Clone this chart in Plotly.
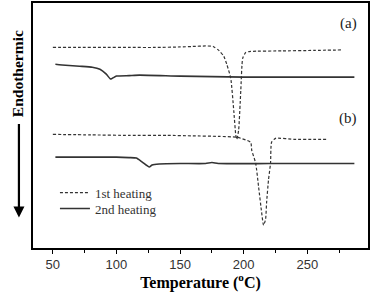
import plotly.graph_objects as go

# Sample (a)
t_a1 = [50, 70, 90, 110, 130, 150, 160, 170, 176, 180.5, 184.4, 186.7, 189.8, 192.2, 193.8, 194.6, 196, 197.7, 199.2, 201.6, 205.5, 230, 255, 278]
h_a1 = [203, 203, 203, 203, 203, 203.5, 204, 204.5, 204, 200, 194, 186, 172, 139, 114, 110, 119, 159, 192, 198, 199, 199.5, 200, 200.5]
t_a2 = [52, 60, 71, 81, 87, 92, 95.3, 97, 100, 110, 118, 150, 200, 250, 287]
h_a2 = [186, 185, 184, 183, 181, 176, 171, 172, 174, 174.5, 175, 174, 173, 173, 173]
# Sample (b)
t_b1 = [50, 80, 110, 140, 160, 180, 195, 205.5, 206.3, 209.4, 211.7, 214.1, 215.6, 217.2, 218, 219.5, 221.1, 221.9, 225, 240, 255, 265]
h_b1 = [115, 114.5, 114, 114, 113.5, 113, 112, 107, 99, 86, 62, 36, 23, 29, 46, 69, 86, 107, 111, 110, 110, 110]
t_b2 = [52, 80, 100, 110, 115.6, 120.3, 125.8, 128, 133.6, 150, 170, 175, 180, 220, 260, 287]
h_b2 = [92, 92, 92, 91.5, 91, 87, 82, 84, 85, 85.5, 85.5, 86.5, 85.5, 85.5, 85.5, 85.5]

x_ticks = [50, 100, 150, 200, 250]

dash_style = dict(color="#333333", width=1.2, dash="3px,2px")
solid_style = dict(color="#333333", width=1.6)

fig = go.Figure()
fig.add_trace(go.Scatter(x=t_a1, y=h_a1, mode="lines", line=dash_style, name="1st heating",
                         line_shape="spline", line_smoothing=0.5, legend="legend"))
fig.add_trace(go.Scatter(x=t_a2, y=h_a2, mode="lines", line=solid_style, name="2nd heating",
                         line_shape="spline", line_smoothing=0.5, legend="legend2"))
fig.add_trace(go.Scatter(x=t_b1, y=h_b1, mode="lines", line=dash_style, showlegend=False,
                         line_shape="spline", line_smoothing=0.5))
fig.add_trace(go.Scatter(x=t_b2, y=h_b2, mode="lines", line=solid_style, showlegend=False,
                         line_shape="spline", line_smoothing=0.5))

legend_common = dict(x=0.0655, xanchor="left", yanchor="middle", bgcolor="rgba(0,0,0,0)",
                     font=dict(family="Liberation Serif", size=13, color="#333"), itemwidth=30)

fig.update_layout(
    width=371, height=292,
    margin=dict(l=33, r=2, t=1, b=43),
    plot_bgcolor="white", paper_bgcolor="white",
    showlegend=True,
    legend=dict(y=0.226, **legend_common),
    legend2=dict(y=0.161, **legend_common),
    xaxis=dict(range=[34.4, 297.7], tickvals=x_ticks, ticks="outside", ticklen=4, tickwidth=1.2,
               tickcolor="black", showline=True, linecolor="black", linewidth=1.5, mirror=True,
               showgrid=False, zeroline=False,
               minor=dict(dtick=25, tick0=25, ticks="outside", ticklen=3, tickcolor="black", showgrid=False),
               tickfont=dict(family="Liberation Sans", size=13, color="#333"),
               title=dict(text="<b>Temperature (<sup>o</sup>C)</b>", font=dict(family="Liberation Serif", size=16, color="black"), standoff=7)),
    yaxis=dict(range=[0, 248], showticklabels=False, ticks="", showline=True, linecolor="black",
               linewidth=1.5, mirror=True, showgrid=False, zeroline=False),
    annotations=[
        dict(text="<b>Endothermic</b>", xref="paper", yref="paper", x=-0.046, y=0.712,
             textangle=-90, showarrow=False, font=dict(family="Liberation Serif", size=15.5, color="black"),
             xanchor="center", yanchor="middle"),
        dict(text="", xref="paper", yref="paper", x=-0.042, y=0.125, ax=0, ay=-95,
             showarrow=True, arrowhead=2, arrowsize=1, arrowwidth=2.2, arrowcolor="black"),
        dict(text="(a)", x=282, y=227, showarrow=False,
             font=dict(family="Liberation Serif", size=15, color="#222")),
        dict(text="(b)", x=282, y=131, showarrow=False,
             font=dict(family="Liberation Serif", size=15, color="#222")),
    ],
)

fig.write_html("out.html")
